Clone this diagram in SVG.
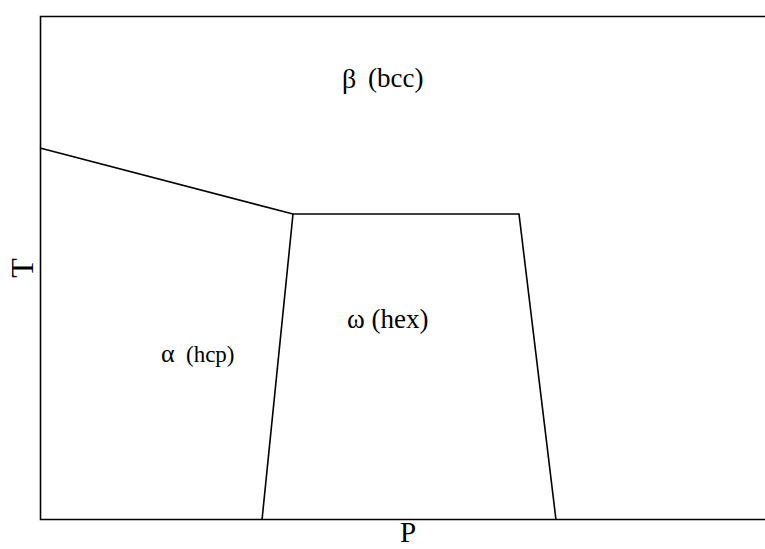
<svg xmlns="http://www.w3.org/2000/svg" width="765" height="549" viewBox="0 0 765 549">
<style>
.ln{fill:none;stroke:#000;stroke-width:1.6}
.t{font-family:"Liberation Serif","Times New Roman",serif;fill:#000}
</style>
<rect x="0" y="0" width="765" height="549" fill="#fff"/>
<g id="frame">
<path class="ln" d="M765,16.5 H40.5 V519.5 H765"/>
</g>
<g id="connectors">
<path class="ln" d="M40,148 L293,214 L519,214 L556,520"/>
<path class="ln" d="M293,214 L262,520"/>
</g>
<g id="beta"><text class="t" x="342" y="88" font-size="28">β</text><text class="t" x="368" y="87" font-size="27">(bcc)</text></g>
<g id="omega"><text class="t" x="347" y="328" font-size="27">ω (hex)</text></g>
<g id="alpha"><text class="t" x="161" y="362" font-size="26">α</text><text class="t" x="186" y="362" font-size="23">(hcp)</text></g>
<g id="xlabel"><text class="t" x="408" y="542" font-size="29" text-anchor="middle">P</text></g>
<g id="ylabel"><text class="t" transform="translate(33,268) rotate(-90)" font-size="32" text-anchor="middle">T</text></g>
</svg>
